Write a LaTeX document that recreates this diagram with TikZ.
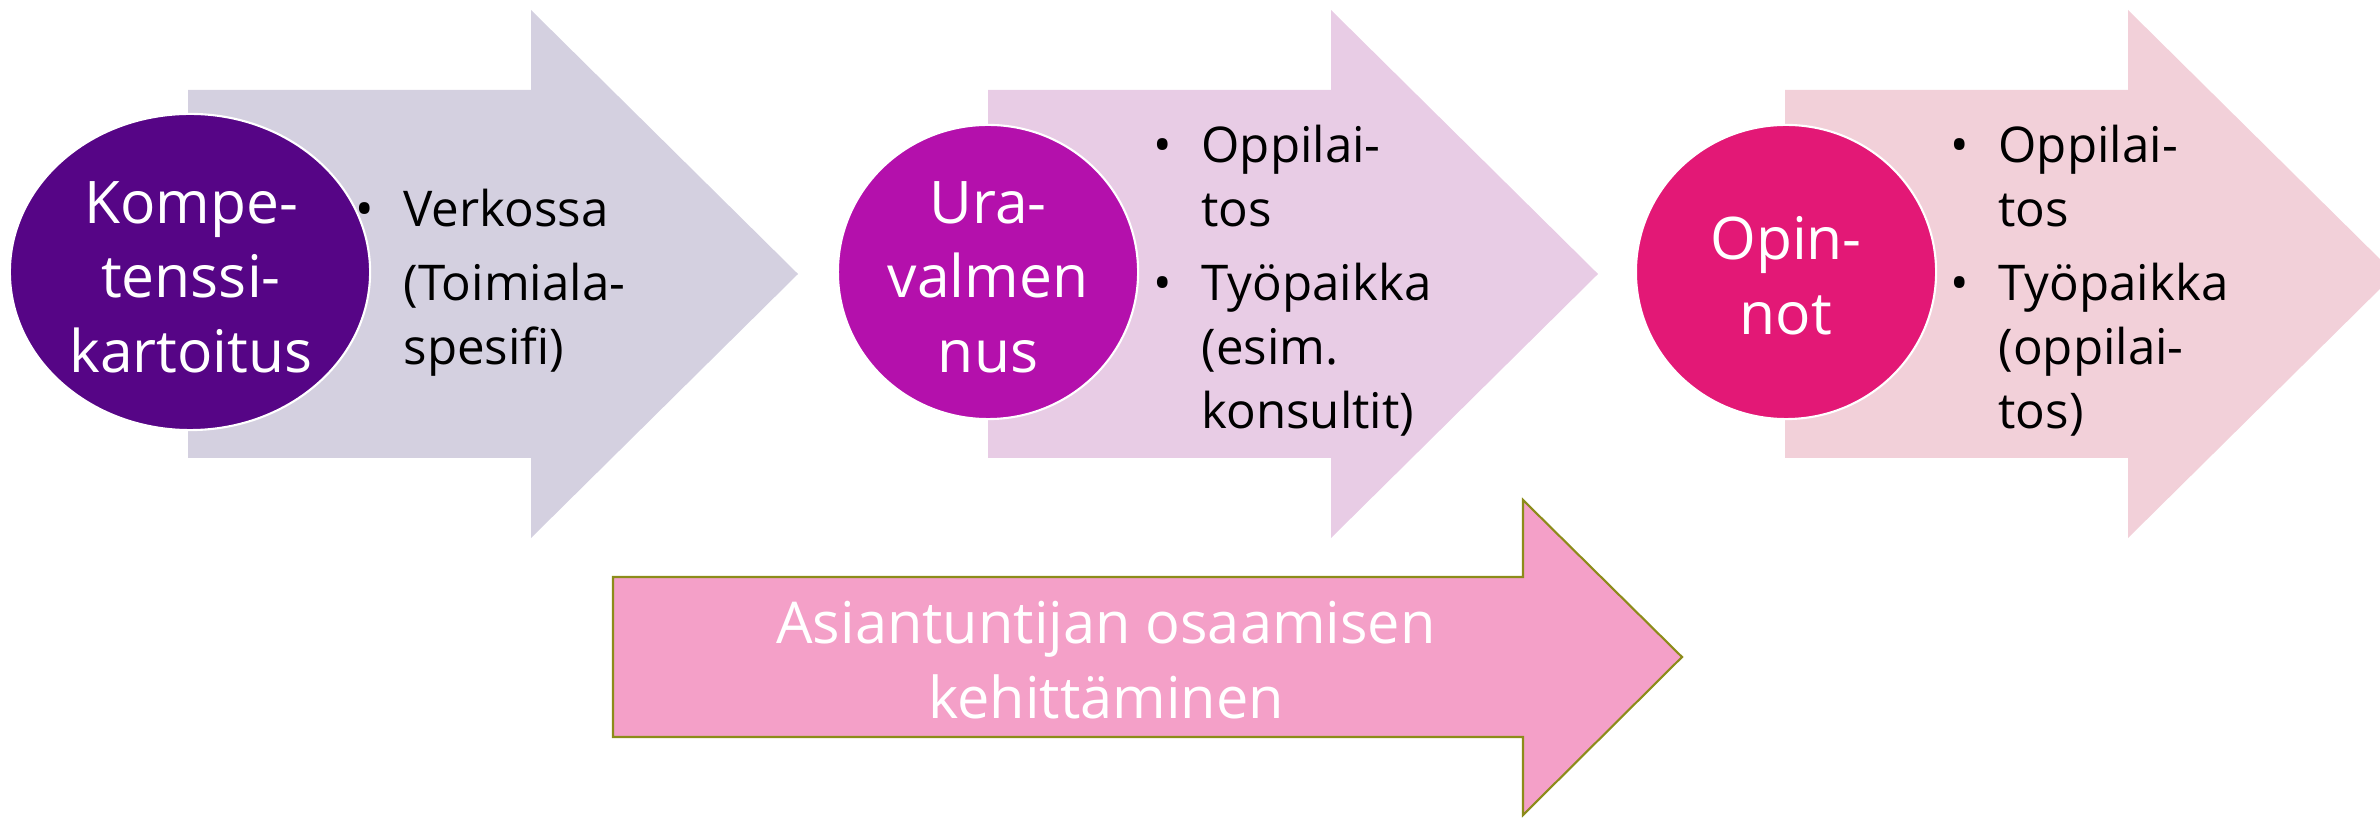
\documentclass[tikz,border=0pt]{standalone}
\usepackage{fontspec}
\setmainfont{Open Sans}
\usepackage{tikz}
\usetikzlibrary{shapes.geometric,positioning}

\definecolor{arrowgray}{HTML}{D4D0E0}
\definecolor{arrowlilac}{HTML}{E8CCE5}
\definecolor{arrowrose}{HTML}{F2D0D9}
\definecolor{kompviolet}{HTML}{560586}
\definecolor{uramagenta}{HTML}{B410AC}
\definecolor{opinpink}{HTML}{E31876}
\definecolor{devpink}{HTML}{F4A0C8}
\definecolor{devolive}{HTML}{8C8C1A}

\begin{document}
\begin{tikzpicture}[x=0.01cm,y=-0.01cm]
            \tikzstyle{phase circle}=[ellipse,draw=white,line width=0.6pt,inner sep=0pt]
            \tikzstyle{phase text}=[text=white,align=center,inner sep=0pt,font=\fontsize{16.7}{21.2}\selectfont]
            \tikzstyle{bullet list}=[anchor=base west,inner sep=0pt,font=\fontsize{14}{18.2}\selectfont]
            \path[use as bounding box] (0,0) rectangle (2380,819);
            \clip (0,0) rectangle (2380,819);
            % the three phase arrows
            \foreach \x/\col in {188/arrowgray,988/arrowlilac,1785/arrowrose}{
              \fill[\col] (\x,90) -- (\x+343,90) -- (\x+343,10) -- (\x+610,274)
                -- (\x+343,538) -- (\x+343,458) -- (\x,458) -- cycle;
            }
            \node[phase circle,fill=kompviolet,minimum width=3.6cm,minimum height=3.16cm] (komp) at (190,272) {};
            \node[phase circle,fill=uramagenta,minimum width=3cm,minimum height=2.94cm] (ura) at (988,272) {};
            \node[phase circle,fill=opinpink,minimum width=3cm,minimum height=2.94cm] (opin) at (1786,272) {};
            \node[phase text] (kompteksti) at (191,277) {Kompe-\\tenssi-\\kartoitus};
            \node[phase text] (urateksti) at (988,277) {Ura-\\valmen\\nus};
            \node[phase text] (opinteksti) at (1786,276) {Opin-\\not};
            \node[bullet list] (verkko) at (355,227) {\begin{tabular}[t]{@{}p{13.6pt}@{}l@{}}
                \textbullet & Verkossa\\[2.6pt]
                & (Toimiala-\\
                & spesifi)
              \end{tabular}};
            \node[bullet list] (urapaikat) at (1153,163) {\begin{tabular}[t]{@{}p{13.6pt}@{}l@{}}
                \textbullet & Oppilai-\\
                & tos\\[2.8pt]
                \textbullet & Työpaikka\\
                & (esim.\\
                & konsultit)
              \end{tabular}};
            \node[bullet list] (opinpaikat) at (1950,163) {\begin{tabular}[t]{@{}p{13.6pt}@{}l@{}}
                \textbullet & Oppilai-\\
                & tos\\[2.8pt]
                \textbullet & Työpaikka\\
                & (oppilai-\\
                & tos)
              \end{tabular}};
            % development arrow below
            \draw[fill=devpink,draw=devolive,line width=0.6pt] (613,577) -- (1523,577) -- (1523,500) -- (1682,657)
              -- (1523,815) -- (1523,737) -- (613,737) -- cycle;
            \node[text=white,align=center,font=\fontsize{16.4}{21.3}\selectfont] (kehitys) at (1106,660) {Asiantuntijan osaamisen\\kehittäminen};
          \end{tikzpicture}
\end{document}
